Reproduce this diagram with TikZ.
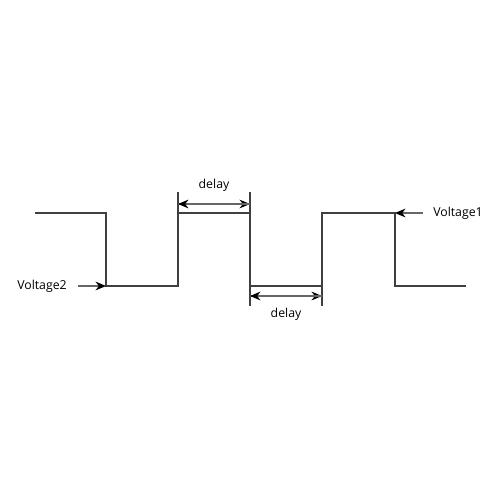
\documentclass[tikz,border=0pt]{standalone}
\usepackage{fontspec}
\setmainfont{Open Sans}
\usetikzlibrary{arrows.meta}

\begin{document}
\begin{tikzpicture}[x=0.02cm, y=-0.02cm,
    wave/.style={black!75, line width=0.75pt},
    dim/.style={black!60, line width=0.6pt},
    tip/.style={-{Stealth[length=6pt, width=5pt, color=black]}},
    lbl/.style={font=\fontsize{7}{8}\selectfont, inner sep=1pt}]
    \useasboundingbox (0,0) rectangle (500,500);

    % Edges of the square wave
    \coordinate (s0) at (35,213);
    \coordinate (a1) at (106,213);  \coordinate (a2) at (106,286);
    \coordinate (b1) at (178,286);  \coordinate (b2) at (178,213);
    \coordinate (c1) at (250,213);  \coordinate (c2) at (250,286);
    \coordinate (d1) at (322,286);  \coordinate (d2) at (322,213);
    \coordinate (f1) at (395,213);  \coordinate (f2) at (395,286);
    \coordinate (s1) at (466,286);
    \draw[wave] (s0) -- (a1) -- (a2) -- (b1) -- (b2) -- (c1) -- (c2)
        -- (d1) -- (d2) -- (f1) -- (f2) -- (s1);

    % Delay, top
    \coordinate (t1) at (178,192);
    \coordinate (t2) at (250,192);
    \draw[wave] (t1) -- (b2);
    \draw[wave] (t2) -- (c1);
    \coordinate (ta) at (178,204);
    \coordinate (tb) at (250,204);
    \draw[dim, tip] (ta) -- (tb);
    \draw[dim, tip] (tb) -- (ta);
    \node[lbl] (delaytop) at (214,185) {delay};

    % Delay, bottom
    \coordinate (u1) at (250,306);
    \coordinate (u2) at (322,306);
    \draw[wave] (c2) -- (u1);
    \draw[wave] (d1) -- (u2);
    \coordinate (ua) at (250,296);
    \coordinate (ub) at (322,296);
    \draw[dim, tip] (ua) -- (ub);
    \draw[dim, tip] (ub) -- (ua);
    \node[lbl] (delaybot) at (286,314) {delay};

    % Voltage levels
    \node[lbl] (volt1) at (458,213) {Voltage1};
    \coordinate (v1) at (423,213);
    \draw[dim, tip] (v1) -- (f1);
    \node[lbl] (volt2) at (42,286) {Voltage2};
    \coordinate (v2) at (78,286);
    \draw[dim, tip] (v2) -- (a2);
\end{tikzpicture}
\end{document}
